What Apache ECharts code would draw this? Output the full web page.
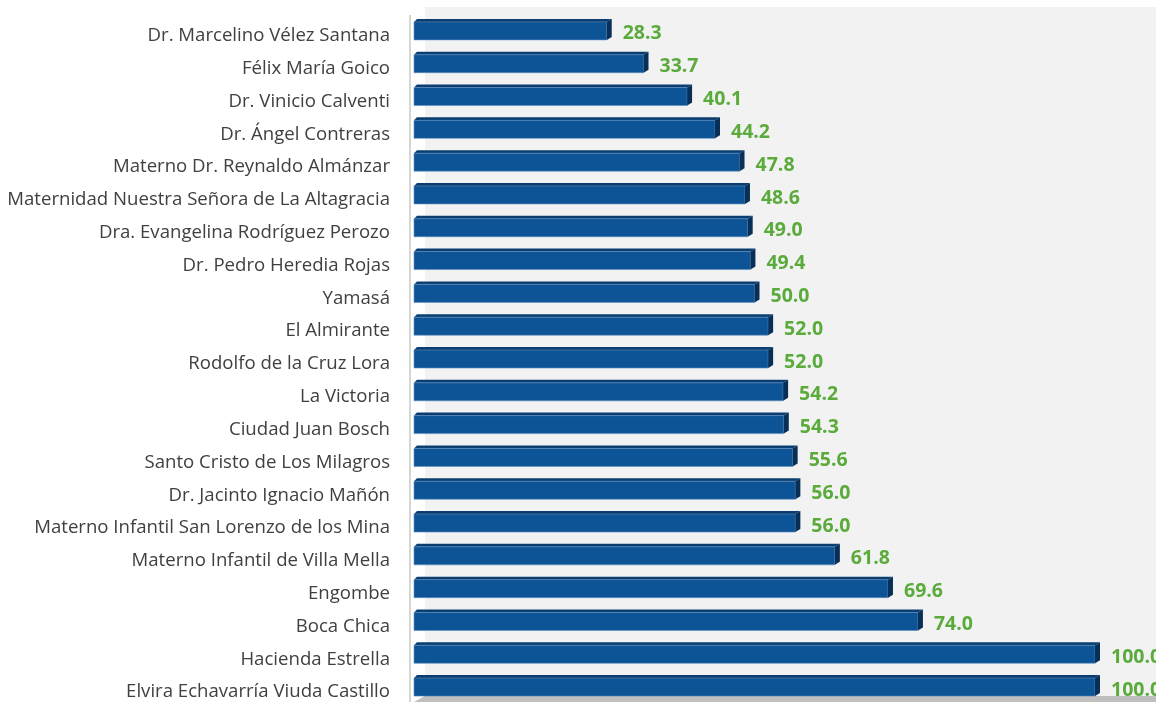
<!DOCTYPE html>
<html><head><meta charset="utf-8">
<script src="https://cdn.jsdelivr.net/npm/echarts@6/dist/echarts.min.js"></script>
<style>html,body{margin:0;padding:0;background:#fff}#c{width:1156px;height:702px}</style>
</head><body><div id="c"></div>
<script>
const categories = [
  "Dr. Marcelino Vélez Santana",
  "Félix María Goico",
  "Dr. Vinicio Calventi",
  "Dr. Ángel Contreras",
  "Materno Dr. Reynaldo Almánzar",
  "Maternidad Nuestra Señora de La Altagracia",
  "Dra. Evangelina Rodríguez Perozo",
  "Dr. Pedro Heredia Rojas",
  "Yamasá",
  "El Almirante",
  "Rodolfo de la Cruz Lora",
  "La Victoria",
  "Ciudad Juan Bosch",
  "Santo Cristo de Los Milagros",
  "Dr. Jacinto Ignacio Mañón",
  "Materno Infantil San Lorenzo de los Mina",
  "Materno Infantil de Villa Mella",
  "Engombe",
  "Boca Chica",
  "Hacienda Estrella",
  "Elvira Echavarría Viuda Castillo"
];
const values = [28.3, 33.7, 40.1, 44.2, 47.8, 48.6, 49.0, 49.4, 50.0, 52.0, 52.0, 54.2, 54.3, 55.6, 56.0, 56.0, 61.8, 69.6, 74.0, 100.0, 100.0];

const chart = echarts.init(document.getElementById('c'), null, {renderer: 'canvas'});
const FONT = '"Open Sans", sans-serif';

function renderItem(params, api) {
  const idx = api.value(0);
  const val = api.value(1);
  const p0 = api.coord([0, idx]);
  const p1 = api.coord([val, idx]);
  const cy = p0[1];
  const x0 = p0[0], x1 = p1[0];
  const fTop = cy - 7.5, fBot = cy + 10.5;
  const d = 3, sw = 5;
  return {
    type: 'group',
    children: [
      { type: 'polygon', shape: { points: [[x0, fTop], [x0 + d, fTop - d], [x1 + sw, fTop - d], [x1, fTop]] },
        style: { fill: '#0a3e70' } },
      { type: 'rect', shape: { x: x0, y: fTop, width: x1 - x0, height: fBot - fTop },
        style: { fill: '#0c5496', stroke: '#5f8fc0', lineWidth: 0.6 } },
      { type: 'polygon', shape: { points: [[x1, fTop], [x1 + sw, fTop - d], [x1 + sw, fBot - d], [x1, fBot]] },
        style: { fill: '#072f58' } },
      { type: 'text', x: x1 + 16, y: cy + 4.5,
        style: { text: val.toFixed(1), fill: '#5aab3b', font: 'bold 19.5px ' + FONT, verticalAlign: 'middle', align: 'left' } },
      { type: 'text', x: x0 - 24, y: cy + 6.5,
        style: { text: categories[idx], fill: '#404040', font: '18.6px ' + FONT, verticalAlign: 'middle', align: 'right' } }
    ]
  };
}

chart.setOption({
  animation: false,
  backgroundColor: '#ffffff',
  graphic: [
    { type: 'rect', z: -10, shape: { x: 425, y: 7, width: 731, height: 690 }, style: { fill: '#f2f2f2' } },
    { type: 'rect', z: -10, shape: { x: 409, y: 15, width: 2, height: 687 }, style: { fill: '#d6d6d6' } },
    { type: 'polygon', z: -10, shape: { points: [[414, 702], [425, 696], [1156, 696], [1156, 702]] }, style: { fill: '#bfbfbf' } }
  ],
  grid: { left: 414, width: 681, top: 13, height: 689, containLabel: false },
  xAxis: { type: 'value', min: 0, max: 100, show: false },
  yAxis: {
    type: 'category', data: categories, inverse: true,
    axisLine: { show: false }, axisTick: { show: false }, axisLabel: { show: false }
  },
  series: [{
    type: 'custom',
    renderItem: renderItem,
    encode: { x: 1, y: 0 },
    data: values.map((v, i) => [i, v]),
    clip: false
  }]
});
</script></body></html>
